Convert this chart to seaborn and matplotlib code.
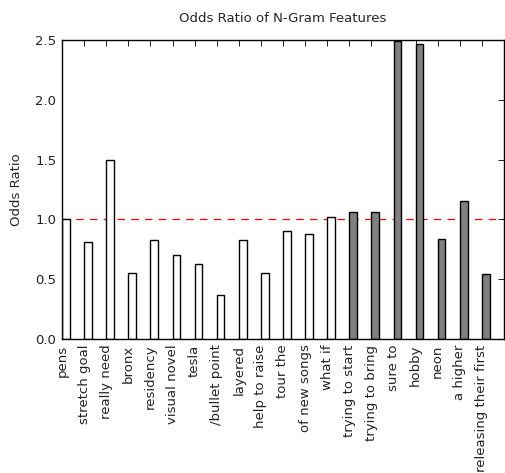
import numpy as np
import pandas as pd
import matplotlib
matplotlib.use("Agg")
import matplotlib.pyplot as plt
import seaborn as sns

features = ["pens", "stretch goal", "really need", "bronx", "residency",
            "visual novel", "tesla", "/bullet point", "layered", "help to raise",
            "tour the", "of new songs", "what if", "trying to start",
            "trying to bring", "sure to", "hobby", "neon", "a higher",
            "releasing their first"]
odds = [1.00, 0.81, 1.50, 0.55, 0.83, 0.70, 0.63, 0.37, 0.83, 0.55,
        0.90, 0.88, 1.02, 1.065, 1.065, 2.49, 2.47, 0.84, 1.155, 0.54]
group = ["low"] * 13 + ["high"] * 7

df = pd.DataFrame({"feature": features, "odds": odds, "group": group})

sns.set_style("white")
plt.rcParams["font.family"] = ["DejaVu Sans"]

fig = plt.figure(figsize=(5.05, 4.73), dpi=100)
ax = fig.add_axes([62 / 505, 1 - 339 / 473, 442 / 505, 299 / 473])

colors = {"low": "white", "high": "#808080"}
sns.barplot(data=df, x="feature", y="odds", hue="group", palette=colors,
            width=0.35, dodge=False, edgecolor="black", linewidth=1,
            legend=False, ax=ax)

w = 0.35
ax.set_xlim(-w / 2, len(features) - w / 2)
ax.set_xticks(np.arange(len(features)) - w / 2)
ax.set_xticklabels(features, rotation=90, fontsize=9.5)
ax.set_ylim(0, 2.5)
ax.set_yticks([0.0, 0.5, 1.0, 1.5, 2.0, 2.5])
ax.set_yticklabels(["0.0", "0.5", "1.0", "1.5", "2.0", "2.5"], fontsize=9.5)

ax.axhline(1.0, color="red", linestyle=(0, (6, 5)), linewidth=0.9, zorder=0.5)

for s in ax.spines.values():
    s.set_visible(True)
    s.set_color("black")
    s.set_linewidth(1)

ax.tick_params(direction="in", top=True, right=True, length=4, width=0.6,
               colors="black", labelcolor="#222222", pad=4)
ax.set_xlabel("")
ax.set_ylabel("Odds Ratio", fontsize=9.5, labelpad=9)
ax.set_title("Odds Ratio of N-Gram Features", fontsize=9.5, pad=13)

fig.savefig("out.png", dpi=100)
